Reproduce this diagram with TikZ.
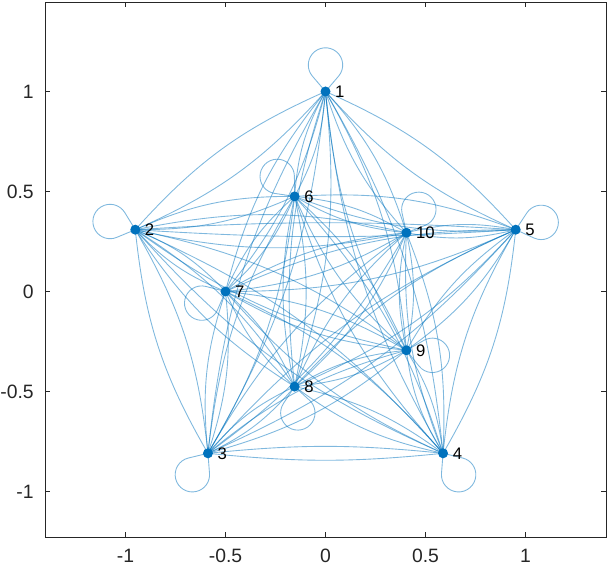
\documentclass[tikz,border=0pt]{standalone}
\usepackage{fontspec}
\setmainfont{Liberation Sans}
\usetikzlibrary{calc}
\pgfdeclarelayer{edges}
\pgfsetlayers{edges,main}
\definecolor{mlblue}{rgb}{0,0.447,0.741}
\definecolor{axgray}{rgb}{0.15,0.15,0.15}

\begin{document}
\begin{tikzpicture}[x=4cm,y=4cm,
    dot/.style={circle,fill=mlblue,inner sep=0pt,minimum size=0.2cm},
    edge/.style={draw=mlblue,draw opacity=0.5,line width=0.5pt},
    lbl/.style={font=\fontsize{9.5}{11}\selectfont,text=black,inner sep=0pt},
    axis/.style={draw=axgray,line width=0.5pt}]
    \tikzstyle{every node}=[font=\fontsize{11}{13}\selectfont,text=axgray]
    \useasboundingbox (-1.6275,-1.3775) rectangle (1.4175,1.4575);

    % axes box with ticks inside
    \draw[axis] (-1.401,-1.229) rectangle (1.4025,1.445);
    \foreach \t/\s [count=\c] in {-1/-1,-0.5/-0.5,0/0,0.5/0.5,1/1} {
        \draw[axis] (\t,-1.229) -- ++(0,0.025);
        \draw[axis] (\t,1.445) -- ++(0,-0.025);
        \draw[axis] (-1.401,\t) -- ++(0.025,0);
        \draw[axis] (1.4025,\t) -- ++(-0.025,0);
        \node (xt\c) at (\t,-1.3225) {\s};
        \node[anchor=east,inner sep=0pt] (yt\c) at (-1.4575,\t) {\s};
    }

    % vertices: outer ring 1-5, inner ring 6-10
    \foreach \k/\a/\r in {1/90/1, 2/162/1, 3/234/1, 4/306/1, 5/18/1,
                         6/108/0.5, 7/180/0.5, 8/252/0.5, 9/324/0.5, 10/36/0.5}
        \node[dot,label={[lbl,label distance=0.08cm]right:\k}] (n\k) at (\a:\r) {};

    \begin{pgfonlayer}{edges}
    % every pair twice, bent both ways
    \foreach \i/\j/\b in {1/2/12, 1/3/12, 1/4/12, 1/5/12, 1/6/12, 1/7/12, 1/8/12, 1/9/12, 1/10/12,
                          2/3/12, 2/4/12, 2/5/3.6, 2/6/12, 2/7/12, 2/8/12, 2/9/12, 2/10/12,
                          3/4/5.8, 3/5/12, 3/6/12, 3/7/12, 3/8/12, 3/9/12, 3/10/12,
                          4/5/12, 4/6/12, 4/7/12, 4/8/12, 4/9/12, 4/10/12,
                          5/6/12, 5/7/12, 5/8/12, 5/9/12, 5/10/12,
                          6/7/12, 6/8/12, 6/9/12, 6/10/12,
                          7/8/12, 7/9/12, 7/10/12,
                          8/9/12, 8/10/12, 9/10/12} {
        \draw[edge] (n\i.center) to[bend left=\b] (n\j.center);
        \draw[edge] (n\i.center) to[bend right=\b] (n\j.center);
    }
    % self loops
    \foreach \k/\a in {1/90, 2/162, 3/234, 4/306, 5/16, 6/131, 7/206, 8/277, 9/349, 10/62}
        \draw[edge] (n\k.center) -- ($(n\k.center)+(\a:0.53cm)+(\a+230:0.344cm)$)
            arc[start angle=\a+230, delta angle=260, radius=0.344cm] -- (n\k.center);
    \end{pgfonlayer}
\end{tikzpicture}
\end{document}
